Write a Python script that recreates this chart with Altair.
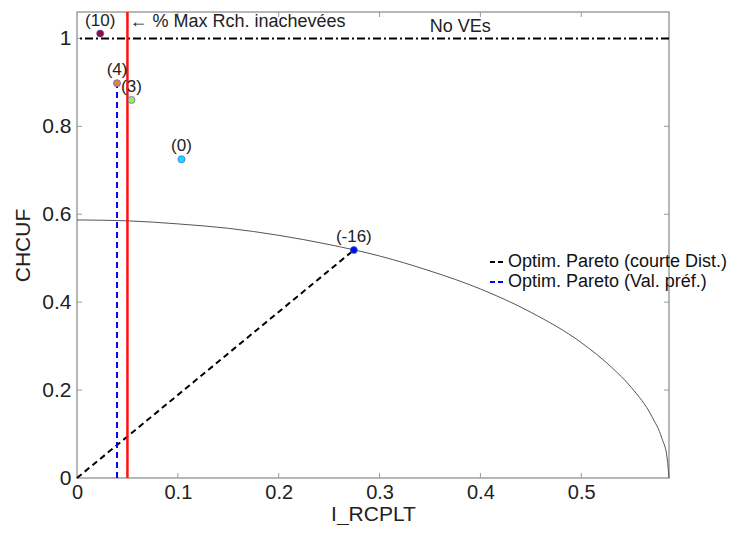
import altair as alt
import pandas as pd

# ---- data ----
pt_labels = ["(10)", "(4)", "(3)", "(0)", "(-16)"]
pt_x = [0.023, 0.0397, 0.054, 0.1036, 0.2745]
pt_y = [1.011, 0.898, 0.860, 0.725, 0.5185]
pt_fill = ["#9a0a2a", "#e8803a", "#b8e04a", "#10dcff", "#0010e0"]

front_x = [0.0, 0.05, 0.1, 0.15, 0.2, 0.25, 0.3, 0.35, 0.4, 0.45, 0.5, 0.53, 0.55, 0.57, 0.58, 0.585, 0.587]
front_y = [0.587, 0.585, 0.578, 0.568, 0.552, 0.531, 0.505, 0.471, 0.430, 0.377, 0.308, 0.252, 0.205, 0.140, 0.090, 0.048, 0.0]

opt_names = ["Optim. Pareto (courte Dist.)", "Optim. Pareto (Val. préf.)"]
opt_dist_x = [0.0, 0.2745]
opt_dist_y = [0.0, 0.5185]
opt_pref_x = [0.0397, 0.0397]
opt_pref_y = [0.0, 0.898]

max_rch_x = [0.05]
no_ve_y = [1.0]

x_ticks = [0, 0.1, 0.2, 0.3, 0.4, 0.5]
y_ticks = [0, 0.2, 0.4, 0.6, 0.8, 1.0]

ann_text = ["\u2190 % Max Rch. inachevées", "No VEs"]
ann_x = [0.05, 0.38]
ann_y = [1.037, 1.027]

# ---- frames ----
W, H = 592, 466
FONT = "Liberation Sans"
xs = alt.Scale(domain=[0, 0.587], nice=False, zero=False)
ys = alt.Scale(domain=[0, 1.06], nice=False, zero=False)

X = alt.X("x:Q", scale=xs, title="I_RCPLT",
          axis=alt.Axis(values=x_ticks, format="~g", labelFlush=False, labelPadding=4,
                        labelFontSize=20, titlePadding=1))
Y = alt.Y("y:Q", scale=ys, title="CHCUF",
          axis=alt.Axis(values=y_ticks, format="~g", labelFlush=False, labelPadding=6,
                        titlePadding=8))

df_front = pd.DataFrame({"x": front_x, "y": front_y})
df_pts = pd.DataFrame({"x": pt_x, "y": pt_y, "lab": pt_labels, "fill": pt_fill})
df_opt = pd.DataFrame({
    "series": [opt_names[0]] * 2 + [opt_names[1]] * 2,
    "x": opt_dist_x + opt_pref_x,
    "y": opt_dist_y + opt_pref_y,
    "idx": [0, 1, 0, 1],
})
df_red = pd.DataFrame({"x": max_rch_x})
df_nove = pd.DataFrame({"y": no_ve_y})
df_xt = pd.DataFrame({"x": x_ticks[1:]})
df_yt = pd.DataFrame({"y": y_ticks[1:]})
df_ann = pd.DataFrame({"t": ann_text, "x": ann_x, "y": ann_y})

front = alt.Chart(df_front).mark_line(color="#555555", strokeWidth=1, interpolate="monotone").encode(
    x=X, y=Y)

nove = alt.Chart(df_nove).mark_rule(color="black", strokeWidth=2, strokeDash=[8, 3, 2, 3]).encode(y=Y)

opt = alt.Chart(df_opt).mark_line(strokeWidth=2, strokeDash=[6, 4]).encode(
    x=X, y=Y,
    order=alt.Order("idx:Q"),
    color=alt.Color("series:N", scale=alt.Scale(domain=opt_names, range=["black", "blue"]),
                    legend=alt.Legend(orient="none", legendX=411, legendY=241, title=None,
                                      symbolType="stroke", symbolStrokeWidth=2,
                                      symbolDash=[5, 3], symbolSize=196,
                                      labelFont=FONT, labelFontSize=18, labelColor="#111111",
                                      labelLimit=0, labelOffset=2, rowPadding=2, padding=0)),
)

red = alt.Chart(df_red).mark_rule(color="#ff1010", strokeWidth=2.5).encode(x=X)

pts = alt.Chart(df_pts).mark_circle(size=50, opacity=1, stroke="#3366dd", strokeWidth=0.7).encode(
    x=X, y=Y, fill=alt.Fill("fill:N", scale=None))

pt_lab = alt.Chart(df_pts).mark_text(dy=-13, fontSize=17, font=FONT, color="#222222").encode(
    x=X, y=Y, text="lab:N")

ann_left = alt.Chart(df_ann.iloc[[0]]).mark_text(align="left", dx=2, fontSize=18, font=FONT,
                                                  color="#222222").encode(x=X, y=Y, text="t:N")
ann_center = alt.Chart(df_ann.iloc[[1]]).mark_text(align="center", fontSize=18, font=FONT,
                                                    color="#222222").encode(x=X, y=Y, text="t:N")

TK = "#999999"
tick_b = alt.Chart(df_xt).mark_rule(color=TK, strokeWidth=1).encode(
    x=X, y=alt.value(H), y2=alt.value(H - 5))
tick_t = alt.Chart(df_xt).mark_rule(color=TK, strokeWidth=1).encode(
    x=X, y=alt.value(0), y2=alt.value(5))
tick_l = alt.Chart(df_yt).mark_rule(color=TK, strokeWidth=1).encode(
    y=Y, x=alt.value(0), x2=alt.value(5))
tick_r = alt.Chart(df_yt).mark_rule(color=TK, strokeWidth=1).encode(
    y=Y, x=alt.value(W), x2=alt.value(W - 5))

chart = alt.layer(
    front, tick_b, tick_t, tick_l, tick_r, nove, opt, red, pts, pt_lab, ann_left, ann_center
).properties(
    width=W, height=H,
    padding={"left": 69, "top": 4, "right": 60, "bottom": 47},
    autosize=alt.AutoSizeParams(type="none"),
).configure_view(
    stroke="#a0a0a0", strokeWidth=1.5
).configure_axis(
    domain=False, ticks=False, tickSize=0, grid=False,
    labelFont=FONT, titleFont=FONT, labelFontSize=21, titleFontSize=21,
    titleFontWeight="normal", labelColor="#222222", titleColor="#222222",
)

chart.save("out.html", embed_options={"renderer": "svg", "actions": False})
